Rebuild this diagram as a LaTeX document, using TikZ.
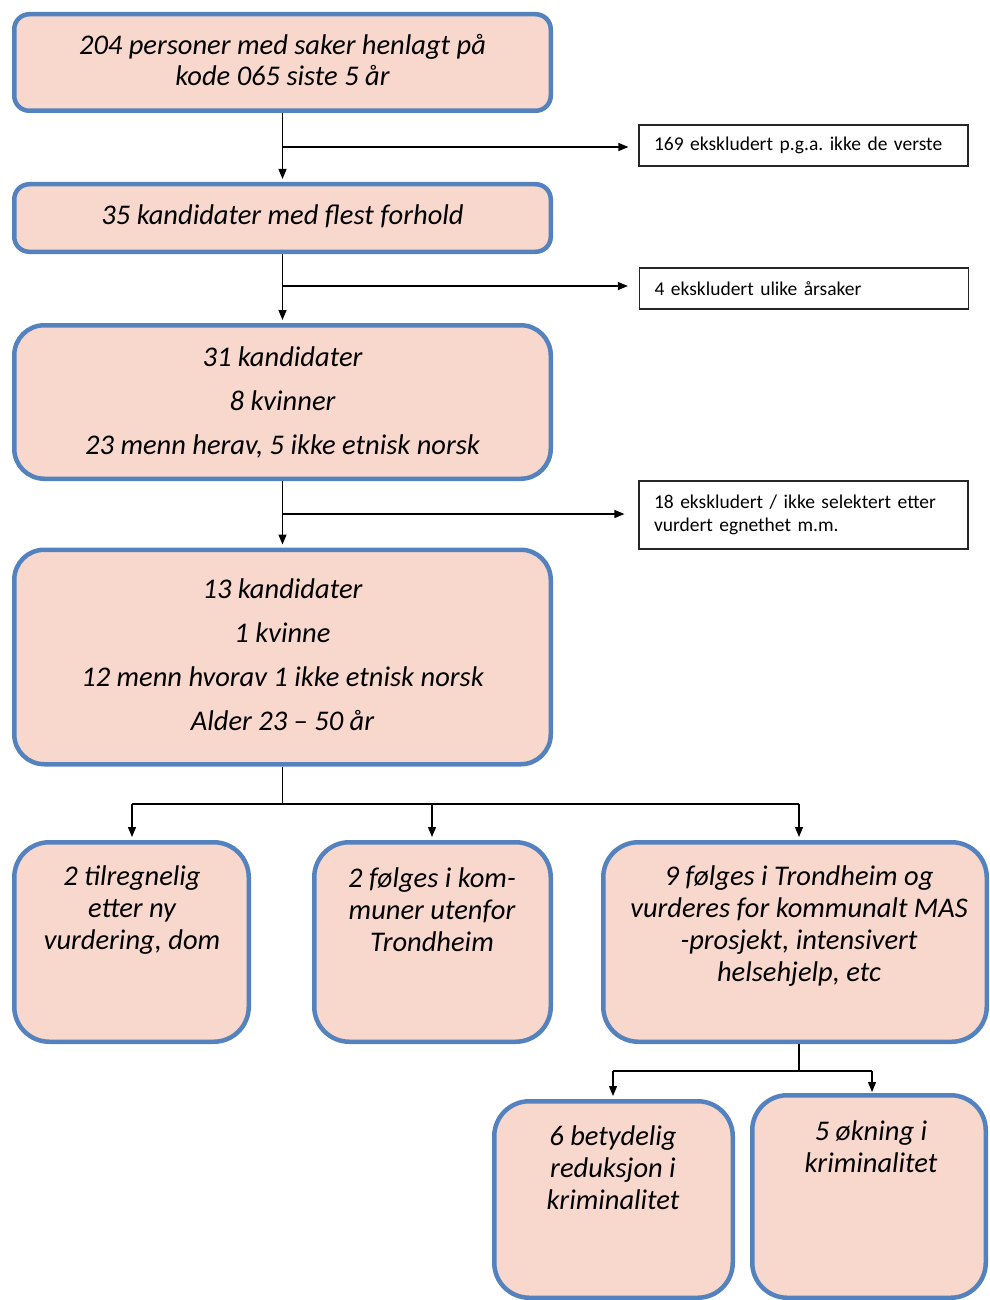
\documentclass[tikz,border=0pt]{standalone}
\usepackage{fontspec}
\setmainfont{Carlito}
\frenchspacing
\usetikzlibrary{arrows.meta,positioning}

\definecolor{boxpink}{RGB}{248,215,204}
\definecolor{boxblue}{RGB}{84,130,190}

\begin{document}
\begin{tikzpicture}[x=1pt, y=-1pt,
  stage/.style={draw=boxblue, fill=boxpink, line width=4.5pt, rounded corners=#1,
    align=center, font=\fontsize{28.5}{31}\selectfont\itshape},
  stage/.default=15pt,
  boxtext/.style={align=center, inner sep=0pt, font=\fontsize{28.5}{32}\selectfont\itshape},
  side/.style={draw=black!85, line width=1.2pt, minimum height=41, text width=299,
    inner xsep=15pt, align=left, font=\fontsize{19.5}{23}\selectfont},
  link/.style={line width=1.2pt},
  flow/.style={link, -{Triangle[length=10pt, width=8pt]}}]

  \useasboundingbox (0,0) rectangle (989,1300);

  % main column
  \node[stage, minimum width=536.5, minimum height=96.5, text depth=6pt] (b1) at (282.5,62.5)
    {204 personer med saker henlagt på\\kode 065 siste 5 år};
  \node[stage, minimum width=536.5, minimum height=67.5, text depth=6pt] (b2) at (282.5,218)
    {35 kandidater med flest forhold};
  \node[stage=30pt, minimum width=536.5, minimum height=153.5,
    font=\fontsize{28.5}{44}\selectfont\itshape] (b3) at (282.5,402)
    {31 kandidater\\8 kvinner\\23 menn herav, 5 ikke etnisk norsk};
  \node[stage=30pt, minimum width=536.5, minimum height=214.5, text depth=4pt,
    font=\fontsize{28.5}{44}\selectfont\itshape] (b4) at (282.5,657)
    {13 kandidater\\1 kvinne\\12 menn hvorav 1 ikke etnisk norsk\\Alder 23 -- 50 år};

  % excluded
  \node[side] (s1) at (803.5,145.5) {169 ekskludert p.g.a. ikke de verste};
  \node[side] (s2) at (804,288.5) {4 ekskludert ulike årsaker};
  \node[side, minimum height=68] (s3) at (803.5,515)
    {18 ekskludert / ikke selektert etter\\vurdert egnethet m.m.};

  % lower boxes
  \node[stage=35pt, minimum width=234.5, minimum height=199.5] (b5) at (131.5,942) {};
  \node[stage=35pt, minimum width=236.5, minimum height=199.5] (b6) at (432.5,942) {};
  \node[stage=35pt, minimum width=383.5, minimum height=199.5] (b7) at (795,942) {};
  \node[stage=35pt, minimum width=238.5, minimum height=196.5] (b8) at (613.5,1199.5) {};
  \node[stage=35pt, minimum width=233.5, minimum height=202.5] (b9) at (869,1196.5) {};

  \node[boxtext] (t5) at (132,910) {2 tilregnelig\\etter ny\\vurdering, dom};
  \node[boxtext] (t6) at (432,910) {2 følges i kom-\\muner utenfor\\Trondheim};
  \node[boxtext] (t7) at (799,926.5)
    {9 følges i Trondheim og\\vurderes for kommunalt MAS\\-prosjekt, intensivert\\helsehjelp, etc};
  \node[boxtext] (t8) at (613,1168) {6 betydelig\\reduksjon i\\kriminalitet};
  \node[boxtext] (t9) at (871,1147) {5 økning i\\kriminalitet};

  % arrows
  \draw[flow, shorten >=3pt] (b1) -- (b2);
  \draw[flow, shorten >=3pt] (b2) -- (b3);
  \draw[flow, shorten >=3pt] (b3) -- (b4);

  \coordinate (j1) at (282.5,147);
  \coordinate (j2) at (282.5,286);
  \coordinate (j3) at (282.5,514);
  \draw[flow, shorten >=10pt] (j1) -- (s1.west |- j1);
  \draw[flow, shorten >=11pt] (j2) -- (s2.west |- j2);
  \draw[flow, shorten >=14pt] (j3) -- (s3.west |- j3);

  \coordinate (f1) at (282.5,804);
  \coordinate (f5) at (132,804);
  \coordinate (f6) at (432,804);
  \coordinate (f7) at (799,804);
  \draw[link] (b4.south) -- (f1);
  \draw[link] (f5) -- (f7);
  \draw[flow, shorten >=3pt] (f5) -- (f5 |- b5.north);
  \draw[flow, shorten >=3pt] (f6) -- (f6 |- b6.north);
  \draw[flow, shorten >=3pt] (f7) -- (f7 |- b7.north);

  \coordinate (g7) at (799,1071);
  \coordinate (g8) at (613,1071);
  \coordinate (g9) at (872,1071);
  \draw[link] (f7 |- b7.south) -- (g7);
  \draw[link] (g8) -- (g9);
  \draw[flow, shorten >=3pt] (g8) -- (g8 |- b8.north);
  \draw[flow, shorten >=1pt] (g9) -- (g9 |- b9.north);

\end{tikzpicture}
\end{document}
